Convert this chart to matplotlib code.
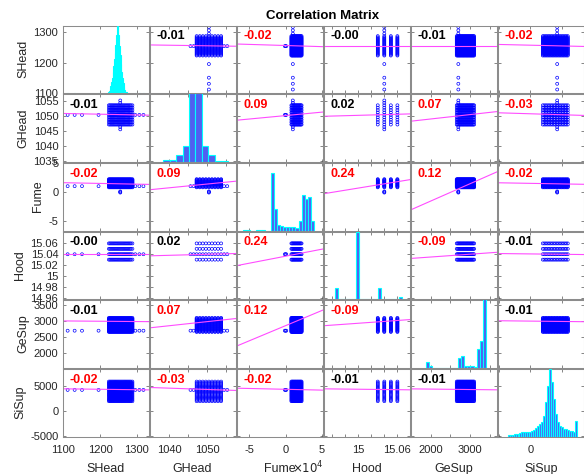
import numpy as np
import matplotlib.pyplot as plt

plt.rcParams['font.family'] = ['Liberation Sans', 'DejaVu Sans']

names = ['SHead', 'GHead', 'Fume', 'Hood', 'GeSup', 'SiSup']

# correlation coefficients, rows = y variable, columns = x variable
corr = [[1.00, -0.01, -0.02, -0.00, -0.01, -0.02],
        [-0.01, 1.00, 0.09, 0.02, 0.07, -0.03],
        [-0.02, 0.09, 1.00, 0.24, 0.12, -0.02],
        [-0.00, 0.02, 0.24, 1.00, -0.09, -0.01],
        [-0.01, 0.07, 0.12, -0.09, 1.00, -0.01],
        [-0.02, -0.03, -0.02, -0.01, -0.01, 1.00]]
# significant ones are printed in red
signif = [[0, 0, 1, 0, 0, 1],
          [0, 0, 1, 0, 1, 1],
          [1, 1, 0, 1, 1, 1],
          [0, 0, 1, 0, 1, 0],
          [0, 1, 1, 1, 0, 0],
          [1, 1, 1, 0, 0, 0]]

# least squares slopes (y units per x unit) and variable means
fit_slope = [[0, -0.19, -0.74, 0, 0, -0.00048],
             [-0.0025, 0, 0.23, 6.0, 0.00147, -6.4e-5],
             [-0.00125, 0.065, 0, 18.3, 0.00299, -1.9e-5],
             [0, 0.00019, 0.0026, 0, 5.2e-6, -1.35e-7],
             [-0.096, 12.9, 95, 1454, 0, -0.0022],
             [-0.93, -26.6, -33.6, -1517, -0.09, 0]]
means = [1256, 1050.5, 1.4, 15.04, 2990, 4380]
typical = [1255, 1050.4, 1.0, 15.04, 2700, 4300]

# sample values (Fume in units of 1e4)
shead_core = [1224, 1227, 1230, 1233, 1236, 1239, 1242, 1245, 1248, 1251, 1254,
              1257, 1260, 1263, 1266, 1269, 1272, 1275, 1278, 1281, 1284, 1288]
shead_sparse = [1112, 1131, 1151, 1196, 1296, 1307, 1318]
ghead_core = [1047.2, 1048.0, 1048.8, 1049.6, 1050.4, 1051.2, 1052.0, 1052.8, 1053.6]
ghead_sparse = [1045.6, 1046.4, 1054.4, 1055.2]
fume_core = [0.8, 0.9, 1.0, 1.1, 1.2, 1.3, 1.4, 1.5, 1.6, 1.7, 1.8, 1.9, 2.0, 2.1, 2.2]
fume_sparse = [-0.1, 0.0, 0.1]
hood_core = [15.03, 15.04, 15.05, 15.06]
hood_sparse = []
gesup_core = [2660, 2680, 2700, 2720, 2740, 2760, 2780, 2800, 2820, 2840, 2860, 2880,
              2900, 2920, 2940, 2960, 2980, 3000, 3020, 3040, 3060, 3080, 3100]
gesup_sparse = []
sisup_core = [2000, 2250, 2500, 2750, 3000, 3250, 3500, 3750, 4000, 4250, 4500,
              4750, 5000, 5250, 5500, 5750, 6000]
sisup_sparse = []
cores = [shead_core, ghead_core, fume_core, hood_core, gesup_core, sisup_core]
sparses = [shead_sparse, ghead_sparse, fume_sparse, hood_sparse, gesup_sparse, sisup_sparse]

# histograms: first bin left edge, bin width, counts, count-axis top
shead_hist = (1222, 2, [2, 5, 10, 18, 28, 40, 55, 70, 88, 105, 125, 150, 175,
                        172, 150, 122, 98, 75, 56, 40, 27, 16, 9, 4, 2], 175)
shead_hist_extra = [1112, 1131, 1151, 1196, 1296, 1307, 1318]
ghead_hist = (1038.5, 1.68, [12, 14, 45, 110, 470, 470, 110, 45, 9, 9], 460)
fume_hist = (-5.78, 0.42, [8, 8, 0, 0, 6, 6, 6, 0, 0, 590, 220, 60, 47, 40, 33,
                           33, 33, 30, 93, 360, 317, 340, 93], 690)
hood_hist = (14.9645, 0.0041, [60, 0, 0, 0, 0, 0, 0, 0, 380, 0, 0, 0, 0, 0, 0, 0,
                               60, 0, 0, 0, 0, 0, 0, 0, 10], 380)
gesup_hist = (1872, 81, [63, 20, 0, 0, 0, 0, 0, 0, 0, 3, 94, 120, 20, 20, 20, 10,
                         194, 267, 700], 680)
sisup_hist = (-3660, 320, [10, 13, 17, 20, 23, 27, 33, 40, 43, 40, 47, 43, 50, 60,
                           87, 100, 120, 140, 200, 340, 500, 670, 540, 370, 220,
                           140, 100, 90, 70, 70, 60, 50, 50, 40, 153], 670)
hists = [shead_hist, ghead_hist, fume_hist, hood_hist, gesup_hist, sisup_hist]

# axis limits and ticks
xlims = [(1098, 1332), (1034.9, 1057.4), (-6.7, 5.1), (14.9475, 15.079), (1500, 3675), (-5200, 8600)]
ylims = [(1100, 1323), (1034.8, 1057.3), (-6.6, 5.0), (14.957, 15.082), (1541, 3653), (-5200, 8600)]
ticks = [[1100, 1200, 1300],
         [1035, 1040, 1045, 1050, 1055],
         [-5, 0, 5],
         [14.96, 14.98, 15.0, 15.02, 15.04, 15.06],
         [2000, 2500, 3000, 3500],
         [-5000, 0, 5000]]
ytick_labels = [['1100', '1200', '1300'],
                ['1035', '1040', '1045', '1050', '1055'],
                ['-5', '0', '5'],
                ['14.96', '14.98', '15', '15.02', '15.04', '15.06'],
                ['2000', '2500', '3000', '3500'],
                ['-5000', '0', '5000']]
xtick_labels = [['1100', '1200', '1300'],
                ['', '1040', '', '1050', ''],
                ['-5', '0', '5'],
                ['', '', '15', '', '', '15.06'],
                ['2000', '', '3000', ''],
                ['', '0', '']]

W, H = 584, 474
x0, x1 = 62, 584.5
y0, y1 = 25, 437
gap = 1.0
cw = (x1 - x0) / 6
rh = (y1 - y0) / 6

fig = plt.figure(figsize=(W / 100, H / 100), dpi=100)
n = len(names)
for i in range(n):
    for j in range(n):
        left = (x0 + j * cw + gap / 2) / W
        bottom = 1 - (y0 + (i + 1) * rh - gap / 2) / H
        ax = fig.add_axes([left, bottom, (cw - gap) / W, (rh - gap) / H])
        ax.set_xlim(xlims[j])
        ax.set_ylim(ylims[i])

        if i == j:
            start, width, counts, top = hists[i]
            centers = start + width * (np.arange(len(counts)) + 0.5)
            hax = ax.twinx()
            hax.bar(centers, counts, width=width, color='#5060f0',
                    edgecolor='#00ffff', linewidth=0.8)
            if i == 0:
                hax.bar(shead_hist_extra, [1] * len(shead_hist_extra), width=width,
                        color='#5060f0', edgecolor='#00ffff', linewidth=0.8)
            hax.set_ylim(0, top)
            hax.set_yticks([])
            for s in hax.spines.values():
                s.set_visible(False)
        else:
            gx, gy = np.meshgrid(cores[j], cores[i])
            xs = np.concatenate([gx.ravel(), sparses[j], np.full(len(sparses[i]), typical[j])])
            ys = np.concatenate([gy.ravel(), np.full(len(sparses[j]), typical[i]), sparses[i]])
            ax.scatter(xs, ys, s=4.5, facecolors='none', edgecolors='#0000ff', linewidths=0.5)
            lx = np.array(xlims[j])
            ly = means[i] + fit_slope[i][j] * (lx - means[j])
            ax.plot(lx, ly, color='#ff4cff', linewidth=0.8)
            ax.text(0.08, 0.84, f'{corr[i][j]:.2f}', transform=ax.transAxes,
                    fontsize=9, fontweight='bold', ha='left', va='center',
                    color='#ff0000' if signif[i][j] else 'black')

        ax.set_xticks(ticks[j])
        ax.set_yticks(ticks[i])
        ax.set_xticklabels(xtick_labels[j] if i == n - 1 else [])
        ax.set_yticklabels(ytick_labels[i] if j == 0 else [])
        ax.tick_params(direction='in', length=2.5, width=0.5, color='#555555',
                       top=True, right=True, labelsize=8, labelcolor='#262626', pad=3)
        ax.tick_params(axis='x', pad=6)
        for s in ax.spines.values():
            s.set_color('#8c8c8c')
            s.set_linewidth(0.75)
        if j == 0:
            ax.set_ylabel(names[i], fontsize=9, labelpad=3, color='#262626')
        if i == n - 1:
            ax.set_xlabel(names[j], fontsize=9, labelpad=6, color='#262626')
            if names[j] == 'Fume':
                ax.annotate(r'$\times10^4$', xy=(1.0, 0), xycoords='axes fraction',
                            xytext=(1, -26.5), textcoords='offset points',
                            ha='right', va='baseline', fontsize=8.5, color='#262626')

fig.text(323 / W, 1 - 16 / H, 'Correlation Matrix', ha='center', va='center',
         fontsize=9.5, fontweight='bold')

fig.savefig('out.png', dpi=100)
